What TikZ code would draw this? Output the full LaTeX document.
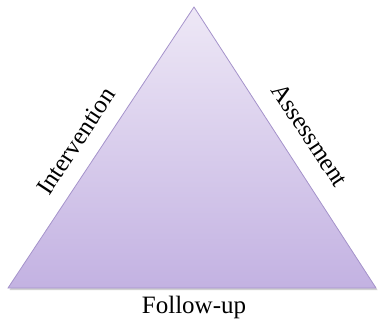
\documentclass[tikz,border=0pt]{standalone}
\usepackage{fontspec}
\setmainfont{Liberation Serif}
\begin{document}
\begin{tikzpicture}[x=1pt,y=-1pt,
  edgelabel/.style={font=\fontsize{25}{29}\selectfont, inner sep=0pt}]
\definecolor{triTop}{HTML}{EEE8F6}
\definecolor{triBot}{HTML}{C3B2E2}
\definecolor{triEdge}{HTML}{A593CB}
\useasboundingbox (0,0) rectangle (378,326);
% soft shadow under the base
\fill[black, opacity=0.18] (195,9) -- (377.5,290) -- (9.5,290) -- cycle;
% the triangle with a vertical gradient
\shade[top color=triTop, bottom color=triBot, draw=triEdge, line width=0.8pt]
  (194,7) coordinate (apex) -- (376,288) coordinate (br) -- (8,288) coordinate (bl) -- cycle;
\node[edgelabel, rotate=56.5] (interv) at (76,141) {Intervention};
\node[edgelabel, rotate=-56.5] (assess) at (310,135) {Assessment};
\node[edgelabel] (follow) at (194,307) {Follow-up};
\end{tikzpicture}
\end{document}
